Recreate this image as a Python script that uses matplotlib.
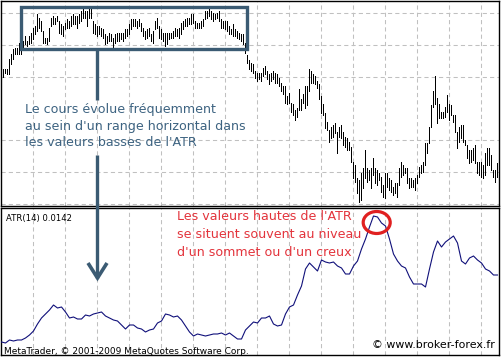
#!/usr/bin/env python3
import numpy as np
import matplotlib
matplotlib.use("Agg")
import matplotlib.pyplot as plt
from matplotlib.patches import Rectangle, Ellipse
from matplotlib.lines import Line2D

# prix (en points, base arbitraire) : plus haut / plus bas de chaque barre
high = [135, 142, 142, 142, 152, 157, 162, 163, 163, 168,
        163, 170, 175, 170, 175, 178, 183, 185, 197, 193,
        190, 180, 173, 173, 183, 193, 195, 193, 195, 190,
        187, 185, 188, 192, 190, 195, 197, 195, 195, 197,
        200, 202, 200, 200, 203, 203, 190, 187, 185, 185,
        183, 182, 177, 175, 178, 177, 173, 177, 178, 178,
        178, 178, 182, 182, 187, 192, 192, 192, 190, 192,
        188, 183, 180, 182, 183, 177, 180, 190, 193, 185,
        182, 178, 178, 178, 178, 178, 180, 183, 182, 183,
        188, 190, 192, 193, 193, 197, 197, 190, 188, 188,
        190, 192, 200, 200, 203, 200, 198, 197, 198, 200,
        192, 190, 190, 190, 185, 182, 187, 182, 180, 178,
        177, 177, 168, 156, 151, 148, 147, 140, 138, 138,
        138, 143, 145, 140, 137, 138, 140, 138, 137, 133,
        128, 125, 125, 115, 118, 108, 107, 100, 102, 122,
        112, 117, 125, 125, 142, 140, 137, 135, 130, 127,
        115, 107, 97, 88, 80, 83, 85, 87, 78, 83,
        85, 78, 73, 72, 68, 63, 48, 45, 32, 30,
        37, 42, 60, 42, 40, 42, 52, 42, 40, 37,
        33, 25, 37, 37, 32, 30, 23, 27, 27, 42,
        48, 45, 42, 42, 32, 32, 30, 32, 35, 43,
        45, 48, 67, 67, 83, 105, 120, 135, 113, 107,
        98, 98, 103, 116, 107, 105, 95, 95, 78, 83,
        85, 85, 70, 65, 60, 60, 62, 65, 48, 48,
        48, 45, 57, 62, 62, 55, 40, 40, 47, 48]
low = [128, 134, 138, 137, 137, 147, 152, 157, 157, 157,
       157, 163, 167, 165, 167, 168, 172, 177, 180, 183,
       180, 168, 168, 167, 170, 185, 187, 187, 190, 178,
       177, 175, 182, 183, 183, 185, 187, 187, 183, 188,
       190, 193, 193, 185, 193, 193, 178, 177, 175, 177,
       175, 173, 167, 168, 170, 170, 163, 168, 170, 170,
       172, 170, 173, 175, 177, 182, 185, 185, 183, 185,
       180, 175, 172, 173, 175, 170, 168, 182, 183, 173,
       172, 170, 165, 167, 172, 173, 173, 175, 175, 173,
       177, 182, 185, 185, 187, 187, 188, 183, 183, 183,
       183, 185, 192, 193, 195, 192, 190, 192, 193, 190,
       183, 183, 182, 180, 177, 177, 175, 175, 173, 172,
       170, 167, 158, 148, 142, 140, 138, 133, 130, 132,
       130, 135, 137, 132, 127, 130, 132, 128, 128, 125,
       120, 117, 108, 107, 108, 98, 95, 90, 93, 100,
       100, 108, 102, 105, 120, 128, 128, 127, 123, 112,
       97, 95, 82, 80, 68, 72, 73, 77, 57, 73,
       72, 65, 63, 60, 60, 48, 32, 28, 17, 8,
       10, 22, 32, 28, 30, 22, 35, 27, 25, 30,
       18, 13, 12, 23, 20, 18, 15, 17, 13, 25,
       33, 35, 37, 27, 22, 23, 23, 20, 27, 33,
       37, 38, 45, 57, 67, 83, 103, 107, 87, 92,
       92, 92, 93, 98, 90, 95, 88, 78, 62, 68,
       72, 68, 65, 52, 47, 48, 50, 47, 37, 35,
       33, 32, 35, 45, 45, 40, 33, 28, 33, 35]

# ATR(14) en 1/10000, une valeur toutes les 2 barres
atr_pts = [75, 74, 77, 76, 77, 77, 79, 82, 86, 93,
           99, 103, 107, 112, 109, 110, 105, 99, 100, 98,
           98, 102, 101, 103, 104, 105, 101, 99, 97, 96,
           92, 88, 92, 92, 89, 88, 85, 87, 88, 94,
           96, 103, 102, 100, 101, 97, 91, 85, 81, 83,
           82, 81, 82, 83, 83, 84, 82, 84, 81, 78,
           78, 87, 91, 95, 94, 99, 99, 101, 93, 91,
           92, 103, 110, 112, 122, 131, 148, 154, 150, 146,
           157, 155, 154, 155, 151, 149, 143, 143, 151, 156,
           168, 178, 190, 201, 200, 194, 191, 178, 163, 156,
           151, 149, 140, 133, 133, 133, 130, 148, 165, 176,
           170, 175, 178, 181, 174, 156, 153, 159, 161, 157,
           154, 148, 146, 142, 142]

price_grid = [198, 166, 134, 70, 38, 6]
time_grid = list(range(16, 250, 16))

blue_lines = ["Le cours évolue fréquemment",
              "au sein d'un range horizontal dans",
              "les valeurs basses de l'ATR"]
red_lines = ["Les valeurs hautes de l'ATR",
             "se situent souvent au niveau",
             "d'un sommet ou d'un creux"]

W, H = 501, 357
fig = plt.figure(figsize=(W / 100, H / 100), dpi=100)
fig.patch.set_facecolor('white')

bars = np.arange(len(high))
atr = np.array(atr_pts) / 10000.0
atr_x = np.arange(len(atr_pts)) * 2

grid_kw = dict(color='#c0c0c0', linewidth=0.75, linestyle=(0, (4, 3)))
xlim = (-0.25, 248.75)

# --- graphique des prix
ax = fig.add_axes([1 / W, 1 - 206 / H, 498 / W, 205 / H])
ax.vlines(bars, low, high, colors='black', linewidth=0.72, antialiased=False, zorder=3)
ax.set_xlim(*xlim)
ax.set_ylim(4, 210)
for g in time_grid:
    ax.axvline(g, **grid_kw)
for g in price_grid:
    ax.axhline(g, **grid_kw)

# --- ATR
ax2 = fig.add_axes([1 / W, 2 / H, 498 / W, 147 / H])
ax2.plot(atr_x, atr, color='#10107a', linewidth=0.8, zorder=3)
ax2.set_xlim(*xlim)
ax2.set_ylim(0.0062, 0.0209)
for g in time_grid:
    ax2.axvline(g, **grid_kw)

for a in (ax, ax2):
    a.set_xticks([])
    a.set_yticks([])
    for s in a.spines.values():
        s.set_color('black')
        s.set_linewidth(1.0)

# --- annotations (coordonnées en pixels)
ov = fig.add_axes([0, 0, 1, 1], facecolor='none')
ov.set_xlim(0, W)
ov.set_ylim(H, 0)
ov.axis('off')

slate = '#3b5b73'
ov.add_patch(Rectangle((20.7, 6.5), 226.6, 42.7, fill=False, edgecolor=slate, linewidth=2.4))
ov.add_line(Line2D([97.5, 97.5], [50, 100], color=slate, linewidth=2.4, solid_capstyle='butt'))
ov.add_line(Line2D([97.5, 97.5], [155, 278], color=slate, linewidth=2.4, solid_capstyle='butt'))
ov.add_line(Line2D([88, 97.5, 107], [263, 278, 263], color=slate, linewidth=2.6,
                   solid_joinstyle='miter', solid_capstyle='butt'))

for i, t in enumerate(blue_lines):
    ov.text(25, 110 + i * 16.5, t, color='#3d6381', fontsize=9.05, va='center', ha='left')
for i, t in enumerate(red_lines):
    ov.text(177, 217 + i * 17.5, t, color='#e3343c', fontsize=9.05, va='center', ha='left')

ov.add_patch(Ellipse((376.7, 222.5), 27, 22, fill=False, edgecolor='#e02020', linewidth=2.3))

ov.text(6, 218, "ATR(14) 0.0142", color='black', fontsize=6.1, va='center', ha='left')
ov.text(4, 351, "MetaTrader, © 2001-2009 MetaQuotes Software Corp.", color='black',
        fontsize=6.45, va='center', ha='left')
ov.text(495, 345, "© www.broker-forex.fr", color='black', fontsize=7.9, va='center', ha='right')

fig.savefig('out.png', dpi=100)
